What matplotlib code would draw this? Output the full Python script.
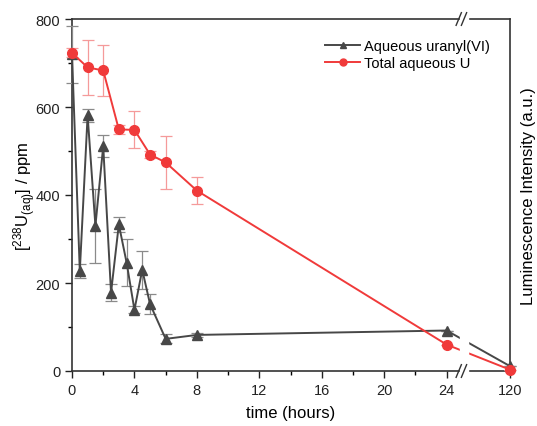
import numpy as np
import matplotlib
matplotlib.use("Agg")
import matplotlib.pyplot as plt
from matplotlib.ticker import FixedLocator
from matplotlib.lines import Line2D

plt.rcParams["font.family"] = ["Liberation Sans", "DejaVu Sans"]
plt.rcParams["mathtext.fontset"] = "custom"
plt.rcParams["mathtext.rm"] = "Liberation Sans"
plt.rcParams["mathtext.it"] = "Liberation Sans:italic"

# data
t_uranyl = [0, 0.5, 1, 1.5, 2, 2.5, 3, 3.5, 4, 4.5, 5, 6, 8, 24, 120]
uranyl = [720, 227, 581, 330, 511, 178, 333, 246, 139, 230, 152, 73, 82, 92, 11]
uranyl_err = [65, 16, 14, 84, 25, 20, 18, 53, 8, 43, 22, 10, 5, 0, 0]

t_total = [0, 1, 2, 3, 4, 5, 6, 8, 24, 120]
total = [723, 690, 683, 549, 548, 492, 474, 410, 60, 3]
total_err = [10, 63, 58, 11, 42, 8, 61, 30, 0, 0]

major_ticks = [0, 4, 8, 12, 16, 20, 24, 120]
minor_ticks = [2, 6, 10, 14, 18, 22]

BREAK = 25.0
K = 3.06 / 95.0


def fwd(x):
    x = np.asarray(x, dtype=float)
    return np.where(x <= BREAK, x, BREAK + (x - BREAK) * K)


def inv(y):
    y = np.asarray(y, dtype=float)
    return np.where(y <= BREAK, y, BREAK + (y - BREAK) / K)


GRAY = "#474747"
RED = "#f03a3a"

fig = plt.figure(figsize=(5.37, 4.27), dpi=100)
ax = fig.add_axes([72 / 537, (427 - 372) / 427, (510 - 72) / 537, (372 - 20) / 427])
ax.set_xscale("function", functions=(fwd, inv))
ax.set_xlim(0, 120)
ax.set_ylim(0, 800)

ax.errorbar(t_uranyl, uranyl, yerr=uranyl_err, color=GRAY, ecolor="#8a8a8a",
            elinewidth=0.9, capsize=4, capthick=0.9, lw=1.4, marker="^",
            ms=7, clip_on=False, zorder=3)
ax.errorbar(t_total, total, yerr=total_err, color=RED, ecolor="#f59a9a",
            elinewidth=0.9, capsize=4, capthick=0.9, lw=1.4, marker="o",
            ms=7, clip_on=False, zorder=4)

# white gap at the axis break
ax.axvspan(24.85, float(inv(25.38)), ymin=-0.01, ymax=1.01,
           color="white", zorder=5, clip_on=False)
for yb in (0, 1):
    for dx in (-0.012, 0.0):
        xc = (464 - 72) / 438 + dx
        ax.plot([xc - 0.006, xc + 0.006], [yb - 0.018, yb + 0.018],
                transform=ax.transAxes, color="#333333", lw=1.0,
                clip_on=False, zorder=6)

ax.xaxis.set_major_locator(FixedLocator(major_ticks))
ax.xaxis.set_minor_locator(FixedLocator(minor_ticks))
ax.set_xticklabels([str(v) for v in major_ticks])
ax.yaxis.set_major_locator(FixedLocator([0, 200, 400, 600, 800]))
ax.yaxis.set_minor_locator(FixedLocator([100, 300, 500, 700]))
ax.tick_params(which="major", direction="out", length=5, width=1,
               labelsize=10.5, colors="#222222")
ax.tick_params(which="minor", direction="out", length=3, width=1)
for s in ax.spines.values():
    s.set_color("#333333")
    s.set_linewidth(1.2)

ax.set_xlabel("time (hours)", fontsize=12, labelpad=6)
ax.set_ylabel(r"[$^{238}$U$_{\rm (aq)}$] / ppm", fontsize=12)
ax.yaxis.set_label_coords(-0.078, 0.5)

ax2 = ax.twinx()
ax2.set_yticks([])
ax2.set_ylabel("Luminescence Intensity (a.u.)", fontsize=12, labelpad=8)
for s in ax2.spines.values():
    s.set_visible(False)

handles = [
    Line2D([], [], color=GRAY, lw=1.4, marker="^", ms=5),
    Line2D([], [], color=RED, lw=1.4, marker="o", ms=5),
]
ax.legend(handles, ["Aqueous uranyl(VI)", "Total aqueous U"],
          loc="upper right", bbox_to_anchor=(0.985, 0.98), frameon=False,
          fontsize=10.5, handlelength=2.4, handletextpad=0.3,
          labelspacing=0.2)

fig.savefig("out.png", dpi=100)
